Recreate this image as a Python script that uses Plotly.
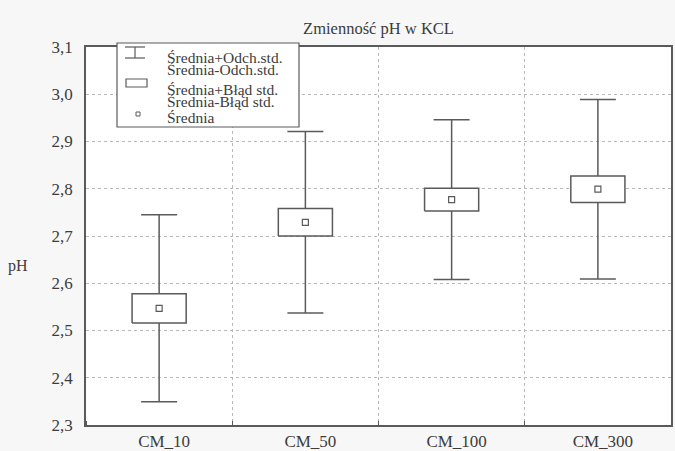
import plotly.graph_objects as go

# ---- data ----
categories = ["CM_10", "CM_50", "CM_100", "CM_300"]
means = [2.547, 2.729, 2.777, 2.799]
std_err = [0.031, 0.029, 0.024, 0.028]
std_dev = [0.198, 0.192, 0.169, 0.190]
y_ticks = [2.3, 2.4, 2.5, 2.6, 2.7, 2.8, 2.9, 3.0, 3.1]
legend_labels = ["Średnia+Odch.std.", "Średnia-Odch.std.", "Średnia+Błąd std.",
                 "Średnia-Błąd std.", "Średnia"]
title_text = "Zmienność pH w KCL"
y_title = "pH"

# ---- styling ----
W, H = 675, 451
ML, MR, MT, MB = 86, 4, 47, 26
LINE = "#5a5a5a"
TXT = "#3c3c3c"
FONT = "Liberation Serif"
BOX_HW = 0.185
CAP_HW = 0.123

xs = list(range(len(categories)))

# whiskers and caps as line segments
wx, wy = [], []
for x, m, se, sd in zip(xs, means, std_err, std_dev):
    wx += [x, x, None]; wy += [m + se, m + sd, None]
    wx += [x, x, None]; wy += [m - se, m - sd, None]
    wx += [x - CAP_HW, x + CAP_HW, None]; wy += [m + sd, m + sd, None]
    wx += [x - CAP_HW, x + CAP_HW, None]; wy += [m - sd, m - sd, None]

# boxes (mean +/- SE)
bx, by = [], []
for x, m, se in zip(xs, means, std_err):
    bx += [x - BOX_HW, x + BOX_HW, x + BOX_HW, x - BOX_HW, x - BOX_HW, None]
    by += [m - se, m - se, m + se, m + se, m - se, None]

fig = go.Figure()
fig.add_trace(go.Scatter(x=wx, y=wy, mode="lines",
                         line=dict(color=LINE, width=1.5), hoverinfo="skip",
                         showlegend=False))
fig.add_trace(go.Scatter(x=bx, y=by, mode="lines", fill="toself",
                         fillcolor="white", line=dict(color=LINE, width=1.5),
                         hoverinfo="skip", showlegend=False))
fig.add_trace(go.Scatter(x=xs, y=means, mode="markers",
                         marker=dict(symbol="square-open", size=6,
                                     color=LINE, line=dict(width=1.2)),
                         showlegend=False))

# ---- custom legend (pixel-based placement converted to paper coords) ----
pw = W - ML - MR
ph = H - MT - MB
def px(x):
    return (x - ML) / pw
def py(y):
    return (H - MB - y) / ph

shapes = []
shapes.append(dict(type="rect", xref="paper", yref="paper",
                   x0=px(117), x1=px(299), y0=py(127), y1=py(43),
                   fillcolor="white", line=dict(color=LINE, width=1.2),
                   layer="above"))
# whisker icon
for yy in (47, 58):
    shapes.append(dict(type="line", xref="paper", yref="paper",
                       x0=px(125), x1=px(145), y0=py(yy), y1=py(yy),
                       line=dict(color=LINE, width=1.2), layer="above"))
shapes.append(dict(type="line", xref="paper", yref="paper",
                   x0=px(135), x1=px(135), y0=py(47), y1=py(58),
                   line=dict(color=LINE, width=1.2), layer="above"))
# box icon
shapes.append(dict(type="rect", xref="paper", yref="paper",
                   x0=px(126), x1=px(147), y0=py(87), y1=py(79),
                   fillcolor="white", line=dict(color=LINE, width=1.2),
                   layer="above"))
# mean icon
shapes.append(dict(type="rect", xref="paper", yref="paper",
                   x0=px(136), x1=px(140), y0=py(116), y1=py(112),
                   fillcolor="white", line=dict(color=LINE, width=1),
                   layer="above"))

annotations = []
legend_y = [57, 70, 89, 102, 118]
for lab, yy in zip(legend_labels, legend_y):
    annotations.append(dict(text=lab, xref="paper", yref="paper",
                            x=px(165), y=py(yy), xanchor="left",
                            yanchor="middle", showarrow=False,
                            font=dict(family=FONT, size=15.5, color=TXT)))
annotations.append(dict(text=y_title, xref="paper", yref="y",
                        x=px(18), y=2.636, xanchor="center", yanchor="middle",
                        showarrow=False,
                        font=dict(family=FONT, size=16, color=TXT)))

fig.update_layout(
    width=W, height=H,
    margin=dict(l=ML, r=MR, t=MT, b=MB, pad=0, autoexpand=False),
    paper_bgcolor="#f7f7f7", plot_bgcolor="white",
    separators=", ",
    font=dict(family=FONT, color=TXT),
    title=dict(text=title_text, x=(ML + pw / 2) / W, xanchor="center",
               y=1 - 28 / H, yanchor="middle",
               font=dict(family=FONT, size=16.5, color=TXT)),
    shapes=shapes, annotations=annotations,
    showlegend=False,
)
fig.update_xaxes(
    automargin=False,
    range=[-0.5, len(categories) - 0.5],
    tickvals=xs, ticktext=categories, ticks="", showgrid=False,
    ticklabelshift=5,
    minor=dict(tick0=0.5, dtick=1, showgrid=True, griddash="dot",
               gridcolor="#b8b8b8", gridwidth=1, ticks="inside", ticklen=4,
               tickcolor=LINE),
    showline=True, mirror=True, linecolor=LINE, linewidth=1.5,
    zeroline=False, tickfont=dict(family=FONT, size=17, color=TXT),
)
fig.update_yaxes(
    automargin=False,
    range=[y_ticks[0], y_ticks[-1]],
    tickvals=y_ticks, tickformat=".1f", ticks="",
    showgrid=True, griddash="dot", gridcolor="#b8b8b8", gridwidth=1,
    showline=True, mirror=True, linecolor=LINE, linewidth=1.5,
    zeroline=False, ticklabelstandoff=8,
    tickfont=dict(family=FONT, size=17, color=TXT),
)

fig.write_html(
    "out.html",
    config={"displayModeBar": False},
    post_script="document.body.style.margin='0';document.body.style.padding='0';",
)
